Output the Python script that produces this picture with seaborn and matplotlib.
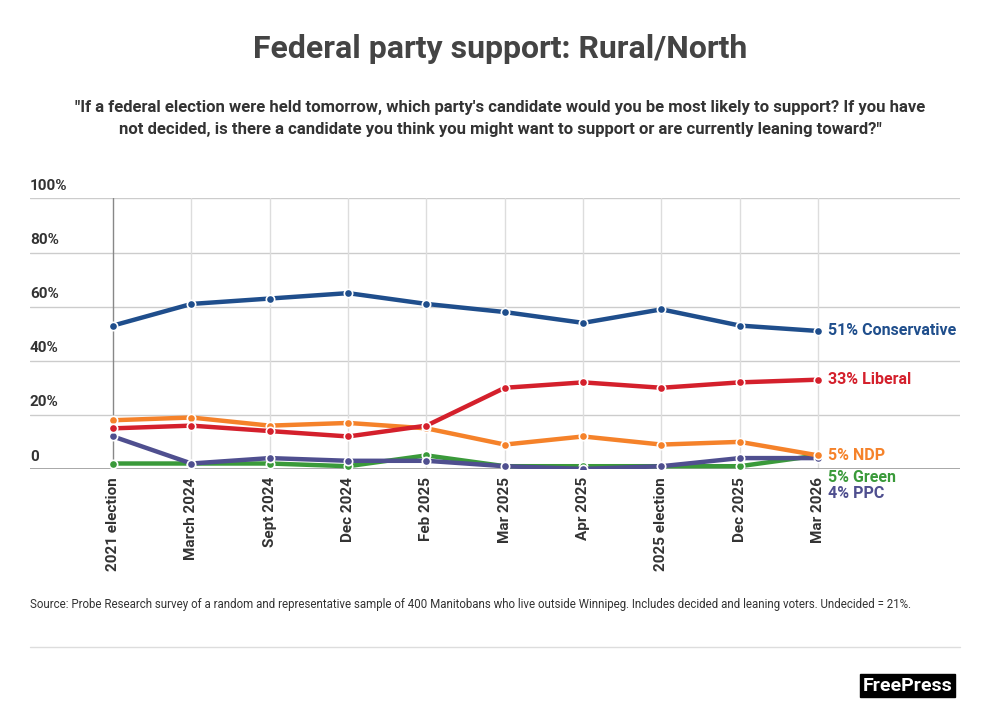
import seaborn as sns
import matplotlib.pyplot as plt
import pandas as pd

periods = ["2021 election", "March 2024", "Sept 2024", "Dec 2024", "Feb 2025",
           "Mar 2025", "Apr 2025", "2025 election", "Dec 2025", "Mar 2026"]
conservative = [53, 61, 63, 65, 61, 58, 54, 59, 53, 51]
liberal = [15, 16, 14, 12, 16, 30, 32, 30, 32, 33]
ndp = [18, 19, 16, 17, 15, 9, 12, 9, 10, 5]
green = [2, 2, 2, 1, 5, 1, 1, 1, 1, 5]
ppc = [12, 2, 4, 3, 3, 1, 0, 1, 4, 4]

parties = ["Conservative", "Liberal", "NDP", "Green", "PPC"]
colors = {"Conservative": "#1f4e8c", "Liberal": "#d4202c", "NDP": "#f5822a",
          "Green": "#3a9a3a", "PPC": "#4f4f8f"}
series = {"Conservative": conservative, "Liberal": liberal, "NDP": ndp,
          "Green": green, "PPC": ppc}

rows = []
for p in parties:
    for i, v in enumerate(series[p]):
        rows.append({"x": i, "value": v, "party": p})
df = pd.DataFrame(rows)

sns.set_style("white")
plt.rcParams['font.family'] = ['Roboto', 'DejaVu Sans']
fig = plt.figure(figsize=(10, 7.27), dpi=100)
ax = fig.add_axes([0.03, 0.355, 0.93, 0.372])

# draw order: green below ppc
for p in ["Green", "PPC", "NDP", "Liberal", "Conservative"]:
    d = df[df.party == p]
    sns.lineplot(data=d, x="x", y="value", ax=ax, color=colors[p], lw=3.2,
                 marker="o", markersize=6, markeredgecolor="white",
                 markeredgewidth=1.2, zorder=3)

ax.set_xlim(-1.06, 10.81)
ax.set_ylim(0, 100)
for y in [20, 40, 60, 80, 100]:
    ax.axhline(y, color="#cccccc", lw=1, zorder=0)
ax.axhline(0, color="#999999", lw=1.2, zorder=1)
for i in range(len(periods)):
    ax.axvline(i, color="#888888" if i == 0 else "#dddddd", lw=1, zorder=0)
for s in ax.spines.values():
    s.set_visible(False)
ax.set_yticks([])
ax.set_xticks(range(len(periods)))
ax.set_xticklabels(periods, rotation=90, fontsize=11, fontweight="bold", color="#333333")
ax.tick_params(axis="x", length=0, pad=6)
ax.set_xlabel("")
ax.set_ylabel("")
for y, lab in zip([0, 20, 40, 60, 80, 100], ["0", "20%", "40%", "60%", "80%", "100%"]):
    ax.text(-1.06, y + 2, lab, fontsize=11, fontweight="bold", color="#333333",
            ha="left", va="bottom")

labels = [("51% Conservative", 51, "Conservative"), ("33% Liberal", 33, "Liberal"),
          ("5% NDP", 5, "NDP"), ("5% Green", -3, "Green"), ("4% PPC", -9, "PPC")]
for text, y, p in labels:
    ax.text(9.12, y, text, fontsize=11.5, fontweight="bold", color=colors[p],
            ha="left", va="center", clip_on=False)

fig.text(0.5, 0.92, "Federal party support: Rural/North", ha="center",
         fontsize=23, fontweight="bold", color="#444444")
fig.text(0.5, 0.815, "\"If a federal election were held tomorrow, which party's candidate would you be most likely to support? If you have\nnot decided, is there a candidate you think you might want to support or are currently leaning toward?\"",
         ha="center", fontsize=12, fontweight="bold", color="#333333", linespacing=1.6)
fig.text(0.03, 0.163, "Source: Probe Research survey of a random and representative sample of 400 Manitobans who live outside Winnipeg. Includes decided and leaning voters. Undecided = 21%.",
         fontsize=8.3, color="#333333")
fig.add_artist(plt.Line2D([0.03, 0.96], [0.11, 0.11], color="#dddddd", lw=1))
fig.text(0.952, 0.05, "FreePress", ha="right", fontsize=14, fontweight="bold",
         color="white", bbox=dict(facecolor="black", edgecolor="black", pad=2))

fig.savefig("out.png", dpi=100)
